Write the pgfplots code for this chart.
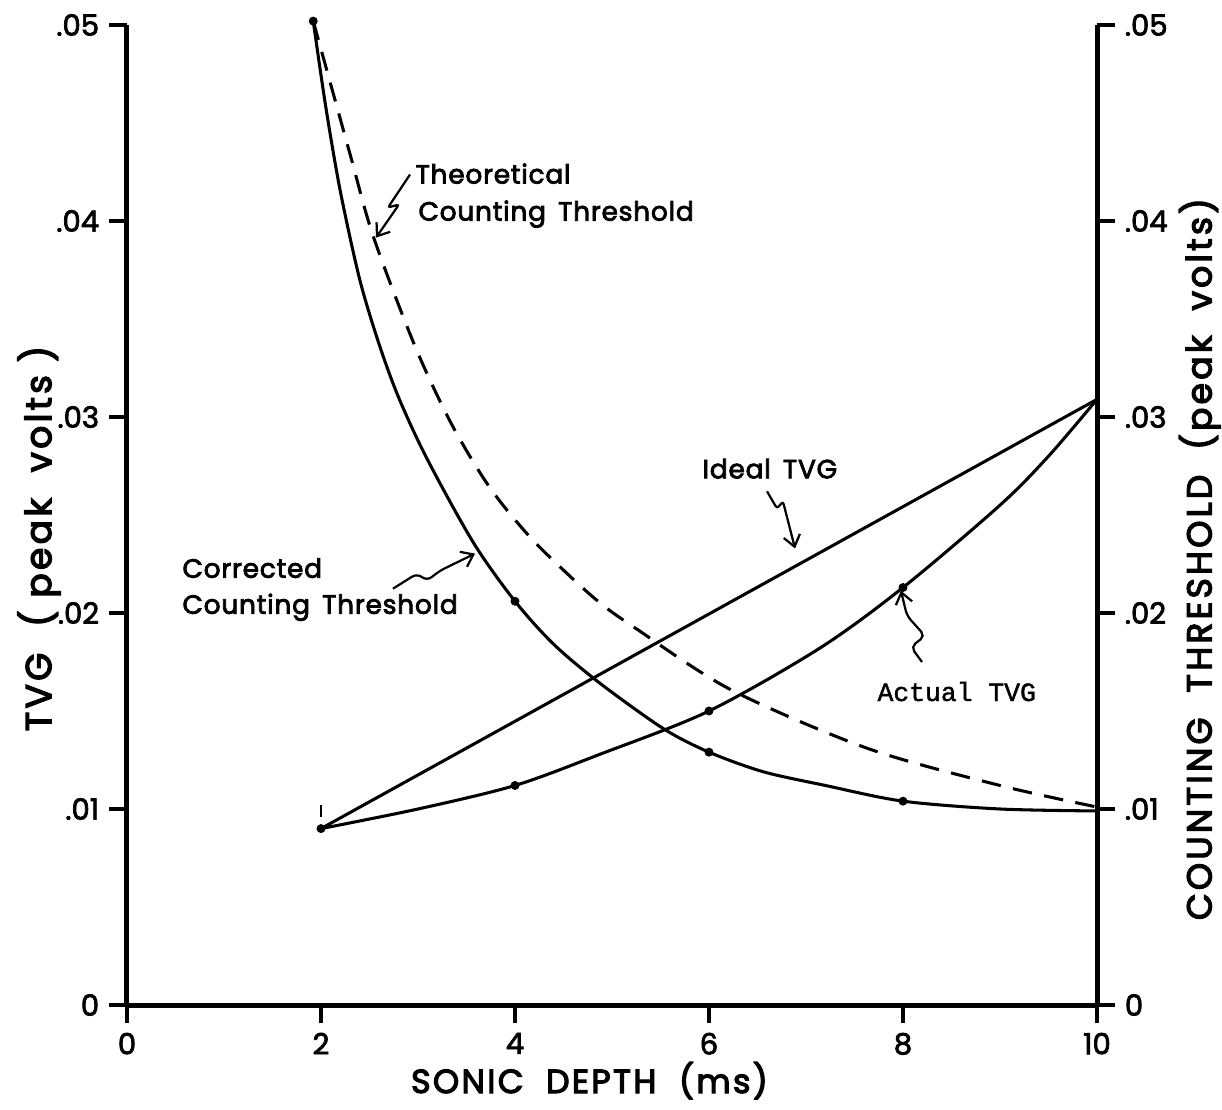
\documentclass[border=0pt]{standalone}
\usepackage{fontspec}
\setmainfont{Poppins}[FakeBold=2.5]
\newfontfamily\lab{Poppins}[LetterSpace=9.0, FakeBold=3.5]
\newfontfamily\xlab{Poppins}[LetterSpace=7.0, FakeBold=3.5]
\newfontfamily\ann{Poppins}[LetterSpace=3.0, FakeBold=3]
\newfontfamily\monofont{Liberation Mono}[FakeBold=1.5]
\usepackage{pgfplots}
\pgfplotsset{compat=1.18}
\usetikzlibrary{arrows.meta}
\begin{document}
\begin{tikzpicture}
\pgfplotsset{
  common/.style={
    scale only axis, width=349.2pt, height=352.8pt,
    xmin=0, xmax=10, ymin=0, ymax=0.05,
    axis line style={line width=1.8pt,-},
    tick style={line width=1.4pt,black},
    tick align=outside,
    major tick length=6.5pt,
    scaled y ticks=false,
    ytick={0,0.01,0.02,0.03,0.04,0.05},
    yticklabels={0,.01,.02,.03,.04,.05},
    tick label style={font=\fontsize{10.5}{12}\selectfont},
    clip=false,
  }
}
\begin{axis}[common, name=main,
  axis x line*=bottom, axis y line*=left,
  xtick pos=bottom, ytick pos=left,
  xtick={0,2,4,6,8,10}, xticklabels={0,2,4,6,8,10},
  every axis y label/.style={at={(rel axis cs:-0.0907,0.476)}, rotate=90, anchor=center},
  ylabel={\lab\fontsize{13}{15}\selectfont TVG\ \ ( peak\ \ volts )},
  every axis x label/.style={at={(rel axis cs:0.4768,-0.0898)}, anchor=base},
  xlabel={\xlab\fontsize{12}{14}\selectfont SONIC\ \ DEPTH\ \ (ms)},
]
% Theoretical counting threshold (dashed)
\addplot[black, line width=1.1pt, dash pattern=on 7pt off 4.5pt, smooth] coordinates {
(1.92,0.0502) (2.30,0.0434) (2.54,0.0392) (2.97,0.0336) (3.35,0.0296) (3.74,0.0264)
(4.15,0.0239) (4.54,0.0220) (4.88,0.0205) (5.22,0.0193) (6.22,0.0161) (7.63,0.0131)
(9.00,0.0112) (10.0,0.0101)};
% Corrected counting threshold (solid)
\addplot[black, line width=1.1pt, smooth] coordinates {
(1.92,0.0502) (2.05,0.0458) (2.20,0.0415) (2.40,0.0370) (2.60,0.0337) (2.80,0.0310)
(3.09,0.0279) (3.57,0.0236) (4.00,0.0206) (4.40,0.0184) (4.88,0.0164) (5.53,0.0141)
(6.00,0.0129) (6.56,0.0119) (7.20,0.0112) (8.00,0.0104) (9.00,0.0100) (10.0,0.0099)};
% Ideal TVG
\addplot[black, line width=1.1pt] coordinates {(2,0.0090) (10,0.0309)};
% Actual TVG
\addplot[black, line width=1.1pt, smooth] coordinates {
(2,0.0090) (3,0.0100) (4,0.0112) (4.88,0.0128) (6,0.0150) (7.14,0.0182)
(8,0.0213) (9,0.0255) (9.5,0.0280) (10,0.0309)};
% measured points
\addplot[only marks, mark=*, mark size=1.4pt, black] coordinates {
(1.92,0.0502) (4,0.0206) (6,0.0129) (8,0.0104)};
\addplot[only marks, mark=*, mark size=1.4pt, black] coordinates {
(2,0.0090) (4,0.0112) (6,0.0150) (8,0.0213)};
\addplot[only marks, mark=|, mark size=2pt, line width=1pt, black] coordinates {(2,0.0099)};
% annotations
\node[anchor=base west, inner sep=0, font=\ann\fontsize{9.5}{12}\selectfont] at (axis cs:2.969,0.04191) {Theoretical};
\node[anchor=base west, inner sep=0, font=\ann\fontsize{9.5}{12}\selectfont] at (axis cs:3.0,0.04002) {Counting\, Threshold};
\node[anchor=base west, inner sep=0, font=\ann\fontsize{9.5}{12}\selectfont] at (axis cs:0.567,0.0218) {Corrected};
\node[anchor=base west, inner sep=0, font=\ann\fontsize{9.5}{12}\selectfont] at (axis cs:0.567,0.01996) {Counting\, Threshold};
\node[anchor=base west, inner sep=0, font=\ann\fontsize{9.5}{12}\selectfont] at (axis cs:5.928,0.02687) {Ideal\, TVG};
\node[anchor=base west, inner sep=0, font=\monofont\fontsize{9.5}{12}\selectfont] at (axis cs:7.732,0.01551) {Actual TVG};
\draw[line width=0.8pt, rounded corners=1pt, -{Straight Barb[length=4pt,width=6pt]}]
  (axis cs:2.918,0.04237) -- (axis cs:2.691,0.04069) -- (axis cs:2.804,0.04084) -- (axis cs:2.567,0.03915);
\draw[line width=0.8pt, rounded corners=2pt, -{Straight Barb[length=4pt,width=6pt]}]
  (axis cs:2.742,0.02124) -- (axis cs:2.990,0.02201) -- (axis cs:3.093,0.02165) -- (axis cs:3.227,0.02216) -- (axis cs:3.588,0.02303);
\draw[line width=0.8pt, rounded corners=1pt, -{Straight Barb[length=4pt,width=6pt]}]
  (axis cs:6.598,0.02621) -- (axis cs:6.701,0.02533) -- (axis cs:6.763,0.02569) -- (axis cs:6.887,0.02329);
\draw[line width=0.8pt, rounded corners=2pt, -{Straight Barb[length=4pt,width=6pt]}]
  (axis cs:8.196,0.0175) -- (axis cs:8.082,0.01827) -- (axis cs:8.227,0.01883) -- (axis cs:8.041,0.01986) -- (axis cs:7.979,0.02114);
\end{axis}
\begin{axis}[common,
  hide x axis, axis y line*=right,
  ytick pos=right, yticklabel pos=right,
  every axis y label/.style={at={(rel axis cs:1.106,0.455)}, rotate=90, anchor=center},
  ylabel={\lab\fontsize{12.5}{15}\selectfont COUNTING\ \ THRESHOLD\ \ (peak\ \ volts)},
]
\addplot[draw=none] coordinates {(0,0) (10,0.05)};
\end{axis}
\pgfresetboundingbox
\path[use as bounding box] ([shift={(-45.72pt,-37.8pt)}]main.south west) rectangle ([shift={(394.2pt,361.8pt)}]main.south west);
\end{tikzpicture}
\end{document}
